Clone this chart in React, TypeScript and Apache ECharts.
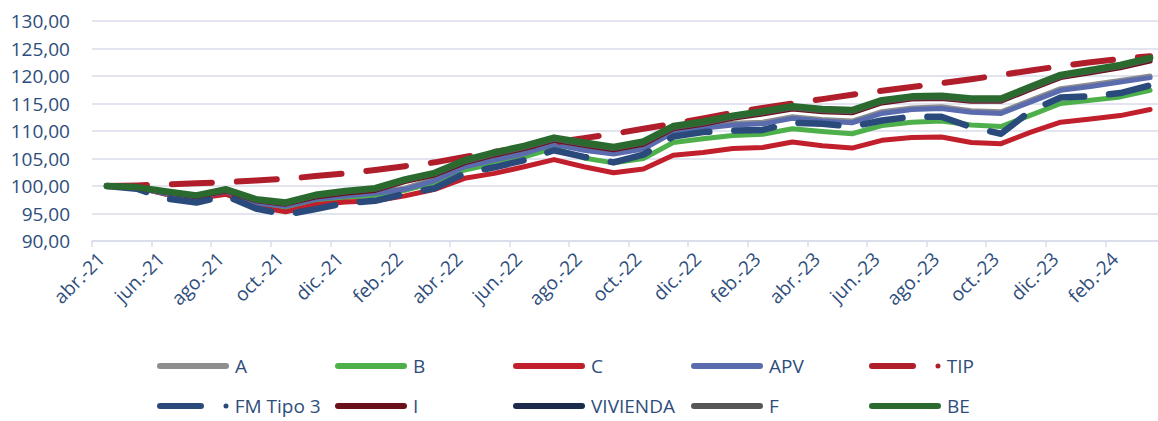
import React, { useEffect, useRef } from "react";
import * as echarts from "echarts";

const months = [
  "abr.-21", "may.-21", "jun.-21", "jul.-21", "ago.-21", "sep.-21", "oct.-21", "nov.-21", "dic.-21",
  "ene.-22", "feb.-22", "mar.-22", "abr.-22", "may.-22", "jun.-22", "jul.-22", "ago.-22", "sep.-22",
  "oct.-22", "nov.-22", "dic.-22", "ene.-23", "feb.-23", "mar.-23", "abr.-23", "may.-23", "jun.-23",
  "jul.-23", "ago.-23", "sep.-23", "oct.-23", "nov.-23", "dic.-23", "ene.-24", "feb.-24", "mar.-24",
];

const serieA = [100.0, 99.8, 98.7, 98.1, 99.1, 97.0, 96.4, 97.8, 98.4, 98.9, 99.6, 101.3, 103.8, 105.0, 106.2, 107.9, 106.8, 106.1, 107.0, 110.0, 110.8, 111.4, 111.6, 112.6, 112.1, 111.8, 113.5, 114.2, 114.4, 113.7, 113.5, 115.6, 117.7, 118.4, 119.2, 120.0];
const serieB = [100.0, 99.7, 98.5, 97.9, 98.8, 96.7, 96.0, 97.3, 97.9, 98.3, 99.2, 100.6, 102.9, 104.1, 105.3, 106.9, 105.1, 104.2, 105.0, 107.9, 108.6, 109.2, 109.4, 110.4, 109.9, 109.5, 111.0, 111.6, 111.8, 111.1, 110.8, 112.9, 115.0, 115.6, 116.2, 117.4];
const serieC = [100.0, 99.8, 98.5, 97.7, 98.5, 96.2, 95.3, 96.6, 97.1, 97.3, 98.2, 99.4, 101.4, 102.3, 103.5, 104.8, 103.5, 102.4, 103.1, 105.6, 106.1, 106.8, 107.0, 108.0, 107.3, 106.9, 108.3, 108.8, 108.9, 107.9, 107.7, 109.8, 111.6, 112.2, 112.8, 113.9];
const serieAPV = [100.0, 99.7, 98.6, 98.0, 99.0, 96.9, 96.3, 97.6, 98.2, 98.7, 99.4, 101.0, 103.5, 104.7, 105.9, 107.6, 106.5, 105.8, 106.7, 109.7, 110.5, 111.1, 111.3, 112.3, 111.8, 111.5, 113.2, 113.9, 114.1, 113.4, 113.2, 115.3, 117.4, 118.1, 118.9, 119.7];
const serieTIP = [100.0, 100.1, 100.3, 100.5, 100.7, 101.0, 101.3, 101.8, 102.3, 102.9, 103.6, 104.3, 105.3, 106.2, 107.0, 107.9, 108.7, 109.5, 110.4, 111.3, 112.3, 113.3, 114.2, 115.0, 115.8, 116.6, 117.3, 118.0, 118.7, 119.4, 120.2, 121.0, 121.8, 122.5, 123.1, 123.6];
const serieFM3 = [100.0, 99.5, 97.7, 97.0, 98.2, 95.9, 94.8, 95.8, 96.9, 97.3, 98.6, 99.6, 102.3, 103.4, 104.7, 106.5, 105.3, 104.3, 105.7, 109.0, 109.8, 110.1, 110.2, 111.5, 111.3, 110.8, 111.9, 112.6, 112.6, 110.7, 109.5, 113.7, 116.1, 116.3, 116.9, 118.3];
const serieI = [100.0, 99.7, 98.8, 98.1, 99.1, 97.3, 96.7, 98.0, 98.7, 99.2, 100.8, 102.0, 104.2, 105.6, 106.8, 108.3, 107.4, 106.6, 107.6, 110.4, 111.2, 112.3, 113.1, 114.0, 113.5, 113.3, 115.1, 115.8, 115.9, 115.4, 115.4, 117.6, 119.7, 120.6, 121.5, 122.7];
const serieVivienda = [100.0, 99.8, 98.9, 98.2, 99.3, 97.5, 96.9, 98.3, 99.0, 99.5, 101.1, 102.3, 104.5, 105.9, 107.1, 108.6, 107.7, 106.9, 107.9, 110.7, 111.5, 112.6, 113.4, 114.3, 113.8, 113.6, 115.4, 116.1, 116.2, 115.7, 115.7, 117.9, 120.0, 120.9, 121.8, 123.1];
const serieF = [100.0, 99.7, 98.9, 98.2, 99.2, 97.4, 96.8, 98.2, 98.9, 99.4, 101.0, 102.2, 104.4, 105.8, 107.0, 108.5, 107.6, 106.8, 107.8, 110.6, 111.4, 112.5, 113.3, 114.2, 113.7, 113.5, 115.3, 116.0, 116.1, 115.6, 115.6, 117.8, 119.9, 120.8, 121.7, 123.0];
const serieBE = [100.0, 99.8, 99.0, 98.3, 99.4, 97.6, 97.0, 98.4, 99.1, 99.6, 101.2, 102.4, 104.7, 106.1, 107.3, 108.8, 107.9, 107.1, 108.1, 110.9, 111.7, 112.8, 113.6, 114.5, 114.0, 113.8, 115.6, 116.3, 116.4, 115.9, 115.9, 118.1, 120.2, 121.1, 122.0, 123.3];

const seriesDefs = [
  { name: "A", data: serieA, color: "#8E8E8E", width: 5, dashed: false },
  { name: "B", data: serieB, color: "#4DB04A", width: 5, dashed: false },
  { name: "C", data: serieC, color: "#C01F2B", width: 5, dashed: false },
  { name: "APV", data: serieAPV, color: "#5A6CAE", width: 5, dashed: false },
  { name: "TIP", data: serieTIP, color: "#B01E2C", width: 6, dashed: true },
  { name: "FM Tipo 3", data: serieFM3, color: "#2B4A7C", width: 6.5, dashed: true },
  { name: "I", data: serieI, color: "#6A1018", width: 5, dashed: false },
  { name: "VIVIENDA", data: serieVivienda, color: "#1C2B4B", width: 5, dashed: false },
  { name: "F", data: serieF, color: "#565656", width: 5, dashed: false },
  { name: "BE", data: serieBE, color: "#2B6A2F", width: 6.5, dashed: false },
];

const legendCols = [157, 335, 513, 691, 869];
const legendRows = [366, 406];

const TEXT = "#2E4D7B";
const GRID = "#D9DCEB";
const FONT = "'Open Sans', 'Noto Sans', sans-serif";

const ICON_SOLID = "path://M3,0H69A3,3,0,0,1,69,6H3A3,3,0,0,1,3,0Z";
const ICON_DASH = "path://M3,0H44A3,3,0,0,1,44,6H3A3,3,0,0,1,3,0ZM69,0.5A2.5,2.5,0,1,1,69,5.5A2.5,2.5,0,1,1,69,0.5Z";

export default function App() {
  const ref = useRef<HTMLDivElement>(null);
  useEffect(() => {
    if (!ref.current) return;
    const chart = echarts.init(ref.current, null, { renderer: "svg" });
    const option = {
      animation: false,
      backgroundColor: "#FFFFFF",
      grid: { left: 92, right: -7, top: 21, bottom: 180, containLabel: false, outerBoundsMode: "none" },
      xAxis: {
        type: "category",
        data: months,
        boundaryGap: true,
        axisLine: { lineStyle: { color: GRID, width: 1.5 } },
        axisTick: { show: true, interval: 1, length: 6, lineStyle: { color: GRID, width: 1.5 } },
        axisLabel: {
          interval: 1,
          rotate: 45,
          margin: 9,
          color: TEXT,
          fontSize: 19,
          fontFamily: FONT,
          padding: [0, 8, 0, 0],
        },
      },
      yAxis: {
        type: "value",
        min: 90,
        max: 130,
        interval: 5,
        axisLine: { show: false },
        axisTick: { show: false },
        splitLine: { lineStyle: { color: GRID, width: 1.5 } },
        axisLabel: {
          margin: 22,
          color: TEXT,
          fontSize: 19,
          fontFamily: FONT,
          formatter: (v: number) => v.toFixed(2).replace(".", ","),
        },
      },
      legend: seriesDefs.map((s, i) => ({
        data: [{ name: s.name, icon: s.dashed ? ICON_DASH : ICON_SOLID }],
        left: legendCols[i % 5],
        top: legendRows[Math.floor(i / 5)] - 10,
        padding: 0,
        itemWidth: 72,
        itemHeight: 6,
        itemGap: 0,
        selectedMode: false,
        textStyle: { color: TEXT, fontSize: 19, fontFamily: FONT, lineHeight: 20, padding: [0, 0, 0, 1] },
      })),
      series: seriesDefs.map((s) => ({
        name: s.name,
        type: "line",
        data: s.data,
        symbol: "none",
        smooth: false,
        itemStyle: { color: s.color },
        lineStyle: {
          color: s.color,
          width: s.width,
          type: s.dashed ? [40, 25] : "solid",
          cap: "round",
          join: "round",
        },
      })),
    };
    chart.setOption(option as any);
    return () => chart.dispose();
  }, []);
  return (
    <div
      ref={ref}
      style={{ position: "absolute", left: 0, top: 0, width: 1158, height: 421 }}
    />
  );
}
